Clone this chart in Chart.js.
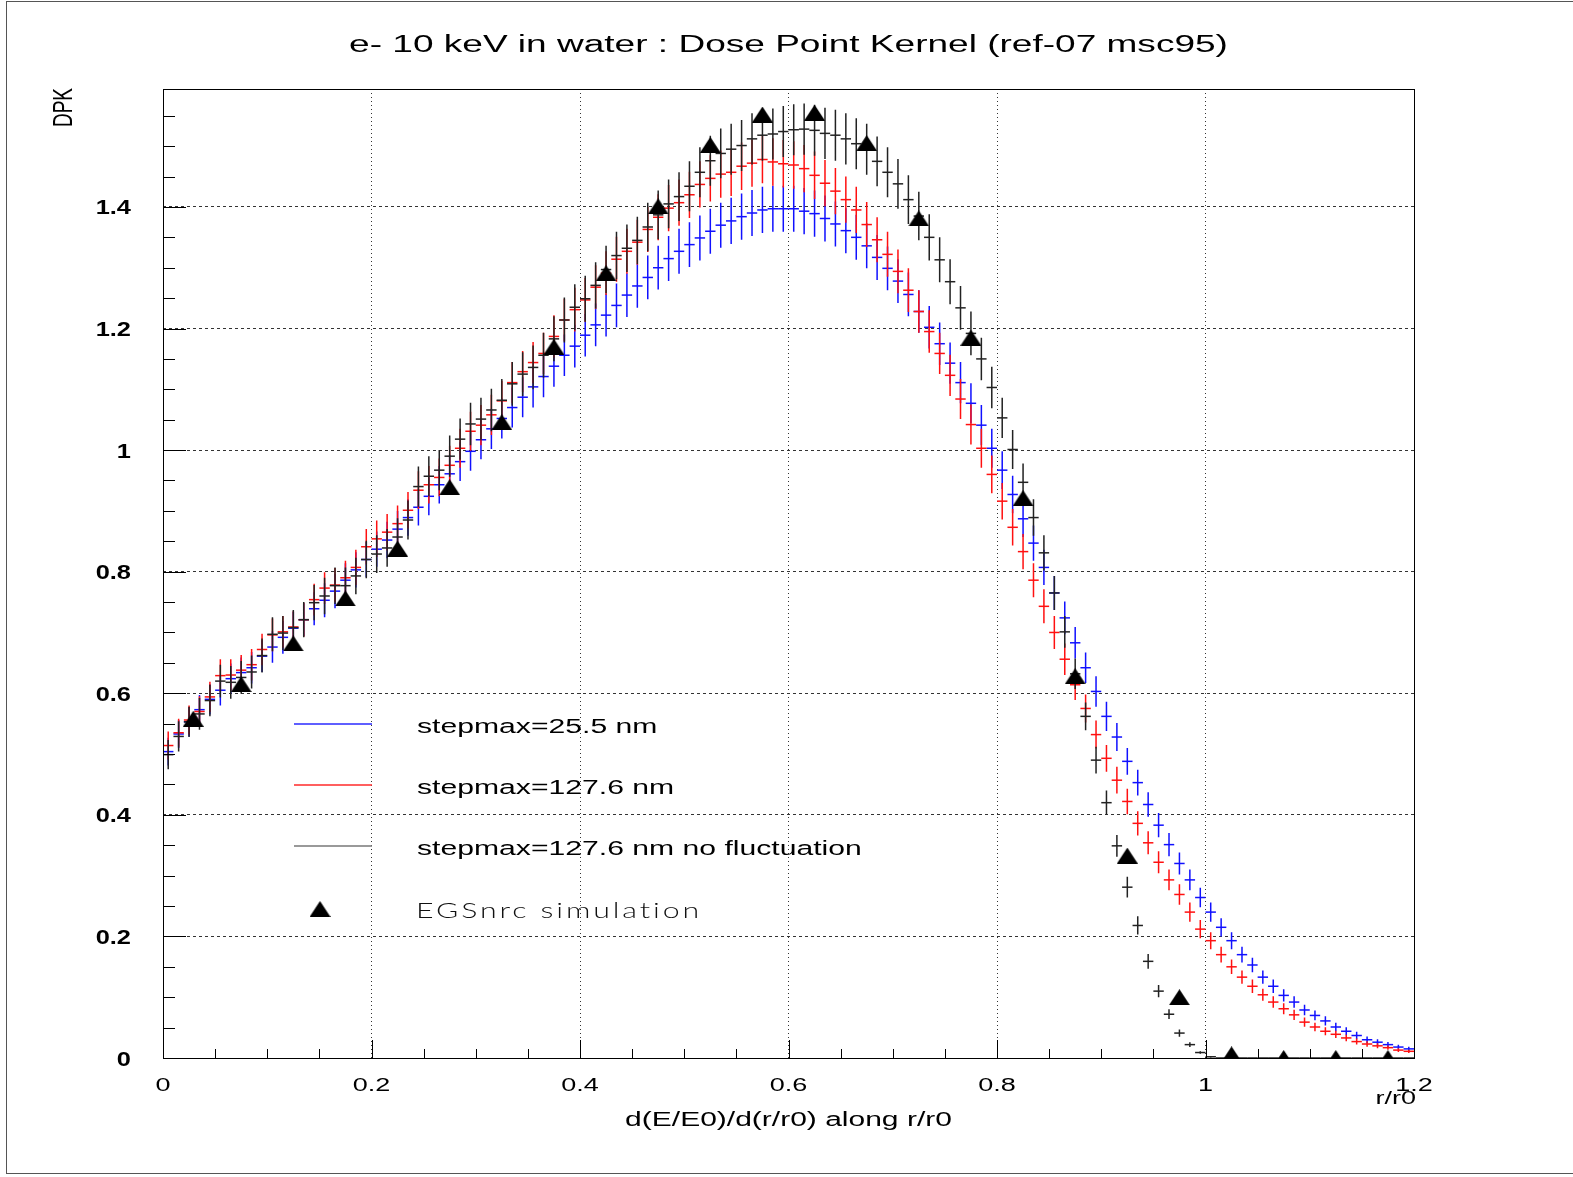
<!DOCTYPE html>
<html>
<head>
<meta charset="utf-8">
<title>e- 10 keV in water : Dose Point Kernel</title>
<script src="https://cdn.jsdelivr.net/npm/chart.js@4.4.1/dist/chart.umd.min.js"></script>
<style>
  html, body { margin: 0; padding: 0; background: #ffffff; }
  #c { display: block; }
</style>
</head>
<body>
<canvas id="c" width="1573" height="1177"></canvas>
<script>
// ---- histogram binning: 120 bins of width 0.01 in r/r0 ----
const binCenters = [
  0.005,0.015,0.025,0.035,0.045,0.055,0.065,0.075,0.085,0.095,
  0.105,0.115,0.125,0.135,0.145,0.155,0.165,0.175,0.185,0.195,
  0.205,0.215,0.225,0.235,0.245,0.255,0.265,0.275,0.285,0.295,
  0.305,0.315,0.325,0.335,0.345,0.355,0.365,0.375,0.385,0.395,
  0.405,0.415,0.425,0.435,0.445,0.455,0.465,0.475,0.485,0.495,
  0.505,0.515,0.525,0.535,0.545,0.555,0.565,0.575,0.585,0.595,
  0.605,0.615,0.625,0.635,0.645,0.655,0.665,0.675,0.685,0.695,
  0.705,0.715,0.725,0.735,0.745,0.755,0.765,0.775,0.785,0.795,
  0.805,0.815,0.825,0.835,0.845,0.855,0.865,0.875,0.885,0.895,
  0.905,0.915,0.925,0.935,0.945,0.955,0.965,0.975,0.985,0.995,
  1.005,1.015,1.025,1.035,1.045,1.055,1.065,1.075,1.085,1.095,
  1.105,1.115,1.125,1.135,1.145,1.155,1.165,1.175,1.185,1.195
];

// ---- stepmax = 25.5 nm ----
const dpkStep25 = [
  0.504,0.533,0.553,0.573,0.590,0.605,0.624,0.634,0.642,0.661,
  0.676,0.692,0.707,0.721,0.739,0.753,0.768,0.786,0.803,0.820,
  0.837,0.852,0.870,0.889,0.906,0.924,0.943,0.961,0.981,0.998,
  1.017,1.035,1.052,1.070,1.087,1.104,1.121,1.138,1.156,1.171,
  1.189,1.206,1.222,1.238,1.255,1.270,1.284,1.300,1.315,1.327,
  1.338,1.349,1.360,1.370,1.377,1.384,1.390,1.395,1.397,1.397,
  1.397,1.393,1.389,1.381,1.372,1.361,1.350,1.336,1.317,1.299,
  1.278,1.256,1.228,1.202,1.175,1.143,1.111,1.077,1.041,1.003,
  0.967,0.927,0.887,0.847,0.807,0.765,0.724,0.683,0.642,0.603,
  0.562,0.528,0.488,0.453,0.417,0.383,0.351,0.320,0.293,0.264,
  0.240,0.215,0.193,0.170,0.153,0.133,0.118,0.103,0.092,0.079,
  0.070,0.061,0.051,0.044,0.037,0.030,0.026,0.022,0.018,0.015
];
const errStep25 = [
  0.023,0.023,0.024,0.024,0.025,0.025,0.025,0.025,0.026,0.026,
  0.026,0.027,0.027,0.027,0.027,0.028,0.028,0.028,0.029,0.029,
  0.029,0.030,0.030,0.030,0.030,0.031,0.031,0.031,0.032,0.032,
  0.032,0.033,0.033,0.033,0.033,0.034,0.034,0.034,0.034,0.035,
  0.035,0.035,0.035,0.036,0.036,0.036,0.036,0.036,0.037,0.037,
  0.037,0.037,0.037,0.037,0.038,0.038,0.038,0.038,0.038,0.038,
  0.038,0.038,0.038,0.038,0.037,0.037,0.037,0.037,0.037,0.036,
  0.036,0.036,0.035,0.035,0.035,0.034,0.034,0.033,0.033,0.032,
  0.031,0.031,0.030,0.029,0.029,0.028,0.027,0.026,0.025,0.025,
  0.024,0.023,0.022,0.021,0.020,0.020,0.019,0.018,0.017,0.016,
  0.016,0.015,0.014,0.013,0.012,0.011,0.011,0.010,0.0095,0.0085,
  0.008,0.0075,0.007,0.0065,0.006,0.0052,0.0047,0.0043,0.0038,0.0034
];

// ---- stepmax = 127.6 nm ----
const dpkStep127 = [
  0.514,0.535,0.556,0.570,0.594,0.629,0.630,0.638,0.647,0.672,
  0.696,0.701,0.709,0.721,0.754,0.773,0.778,0.790,0.807,0.841,
  0.854,0.865,0.879,0.901,0.934,0.943,0.955,0.975,1.003,1.031,
  1.041,1.058,1.081,1.111,1.129,1.144,1.159,1.187,1.214,1.231,
  1.247,1.268,1.291,1.314,1.327,1.342,1.363,1.383,1.398,1.407,
  1.420,1.437,1.447,1.454,1.457,1.467,1.472,1.478,1.474,1.471,
  1.469,1.463,1.452,1.439,1.426,1.412,1.395,1.371,1.346,1.322,
  1.294,1.263,1.228,1.195,1.159,1.123,1.084,1.042,1.003,0.960,
  0.916,0.873,0.833,0.786,0.743,0.700,0.656,0.614,0.575,0.532,
  0.493,0.457,0.422,0.386,0.354,0.322,0.293,0.269,0.240,0.212,
  0.193,0.170,0.150,0.133,0.118,0.104,0.092,0.081,0.071,0.059,
  0.051,0.044,0.039,0.033,0.027,0.023,0.020,0.017,0.013,0.011
];
const errStep127 = [
  0.023,0.023,0.024,0.025,0.025,0.027,0.026,0.025,0.026,0.026,
  0.027,0.026,0.026,0.028,0.026,0.026,0.028,0.028,0.029,0.029,
  0.030,0.030,0.030,0.030,0.031,0.031,0.031,0.032,0.032,0.032,
  0.033,0.033,0.033,0.034,0.034,0.034,0.034,0.035,0.035,0.036,
  0.036,0.036,0.036,0.037,0.037,0.037,0.037,0.038,0.038,0.038,
  0.038,0.038,0.038,0.039,0.039,0.039,0.039,0.039,0.039,0.039,
  0.039,0.039,0.039,0.038,0.038,0.038,0.038,0.037,0.037,0.037,
  0.036,0.036,0.035,0.035,0.034,0.034,0.033,0.033,0.032,0.031,
  0.030,0.030,0.029,0.028,0.028,0.027,0.026,0.025,0.023,0.023,
  0.022,0.022,0.021,0.020,0.019,0.018,0.017,0.017,0.016,0.015,
  0.014,0.013,0.012,0.011,0.011,0.010,0.0095,0.0089,0.0083,0.0075,
  0.0069,0.0064,0.006,0.0054,0.0049,0.0044,0.0041,0.0036,0.0031,0.0027
];

// ---- stepmax = 127.6 nm, no energy-loss fluctuation ----
const dpkNoFluct = [
  0.499,0.529,0.553,0.566,0.588,0.620,0.618,0.626,0.635,0.662,
  0.697,0.699,0.708,0.721,0.749,0.760,0.777,0.777,0.793,0.820,
  0.829,0.839,0.857,0.885,0.940,0.957,0.967,0.990,1.018,1.043,
  1.051,1.066,1.082,1.109,1.125,1.136,1.156,1.183,1.214,1.235,
  1.249,1.271,1.297,1.320,1.332,1.345,1.367,1.387,1.405,1.417,
  1.434,1.457,1.476,1.488,1.495,1.501,1.512,1.518,1.520,1.524,
  1.527,1.528,1.526,1.521,1.518,1.512,1.504,1.495,1.475,1.457,
  1.438,1.412,1.385,1.350,1.313,1.277,1.234,1.192,1.150,1.103,
  1.053,1.001,0.947,0.889,0.831,0.765,0.701,0.632,0.562,0.490,
  0.420,0.349,0.281,0.218,0.159,0.110,0.072,0.041,0.022,0.009,
  0.002,0,0,0,0,0,0,0,0,0,
  0,0,0,0,0,0,0,0,0,0
];
const errNoFluct = [
  0.024,0.025,0.025,0.026,0.026,0.027,0.027,0.027,0.027,0.028,
  0.028,0.028,0.029,0.029,0.029,0.030,0.030,0.030,0.030,0.031,
  0.031,0.031,0.031,0.032,0.033,0.033,0.033,0.034,0.034,0.035,
  0.035,0.035,0.035,0.036,0.036,0.036,0.037,0.037,0.037,0.038,
  0.038,0.038,0.039,0.039,0.039,0.039,0.040,0.040,0.040,0.040,
  0.041,0.041,0.041,0.041,0.042,0.042,0.042,0.042,0.042,0.042,
  0.042,0.042,0.042,0.042,0.042,0.042,0.042,0.042,0.041,0.041,
  0.041,0.040,0.040,0.038,0.037,0.037,0.036,0.036,0.035,0.034,
  0.033,0.032,0.031,0.030,0.029,0.028,0.026,0.025,0.023,0.022,
  0.020,0.018,0.017,0.015,0.012,0.010,0.008,0.006,0.004,0.002,
  0.001,0,0,0,0,0,0,0,0,0,
  0,0,0,0,0,0,0,0,0,0
];

// ---- EGSnrc reference points ----
const egsR = [
  0.029,0.075,0.125,0.175,0.225,0.275,0.325,0.375,0.425,0.475,0.525,0.575,
  0.625,0.675,0.725,0.775,0.825,0.875,0.925,0.975,1.025,1.075,1.125,1.175
];
const egsDpk = [
  0.558,0.615,0.682,0.756,0.838,0.939,1.046,1.170,1.291,1.401,1.502,1.552,
  1.555,1.505,1.381,1.185,0.921,0.628,0.333,0.100,0.006,0,0,0
];

// ---- axes ----
const xTickValues = [0, 0.2, 0.4, 0.6, 0.8, 1, 1.2];
const xTickLabels = ['0', '0.2', '0.4', '0.6', '0.8', '1', '1.2'];
const yTickValues = [0, 0.2, 0.4, 0.6, 0.8, 1, 1.2, 1.4];
const yTickLabels = ['0', '0.2', '0.4', '0.6', '0.8', '1', '1.2', '1.4'];
const minorStep = 0.05;

const chartTitle = 'e- 10 keV in water : Dose Point Kernel (ref-07 msc95)';
const xTitle = 'd(E/E0)/d(r/r0) along r/r0';
const xUnitLabel = 'r/r0';
const yTitle = 'DPK';
const seriesNames = ['stepmax=25.5 nm', 'stepmax=127.6 nm', 'stepmax=127.6 nm no fluctuation', 'EGSnrc simulation'];

// ---- drawing helpers ----
const FONT = '"Liberation Sans", Arial, Helvetica, sans-serif';
const STRETCH = 1.5; // wide lettering of the plot

function drawText(ctx, text, x, y, o) {
  ctx.save();
  ctx.font = o.font;
  ctx.fillStyle = o.color || '#000';
  ctx.textAlign = o.align || 'left';
  ctx.textBaseline = o.baseline || 'alphabetic';
  if (o.letterSpacing) ctx.letterSpacing = o.letterSpacing;
  ctx.translate(x, y);
  if (o.rotate) ctx.rotate(o.rotate);
  ctx.scale(o.sx || 1, o.sy || 1);
  ctx.fillText(text, 0, 0);
  ctx.restore();
}

// filled upward triangle used as the EGSnrc marker
function makeTriangle(w, h) {
  const c = document.createElement('canvas');
  c.width = w; c.height = h;
  const g = c.getContext('2d');
  g.fillStyle = '#000';
  g.beginPath();
  g.moveTo(w / 2, 0);
  g.lineTo(w, h);
  g.lineTo(0, h);
  g.closePath();
  g.fill();
  return c;
}
const triangleMarker = makeTriangle(21, 16);

function toPoints(values) {
  return binCenters.map((x, i) => ({ x: x, y: values[i] }));
}

// vertical error bars for each histogram dataset, placed with the chart scales
const errorBarPlugin = {
  id: 'errorBars',
  afterDatasetDraw(chart, args) {
    const ds = chart.data.datasets[args.index];
    if (!ds.errors) return;
    const { ctx, chartArea: a } = chart;
    const ys = chart.scales.y;
    ctx.save();
    ctx.beginPath();
    ctx.rect(a.left, a.top, a.right - a.left, a.bottom - a.top);
    ctx.clip();
    ctx.strokeStyle = ds.borderColor;
    ctx.lineWidth = 1.5;
    ctx.beginPath();
    args.meta.data.forEach((pt, i) => {
      const v = ds.data[i].y;
      const e = ds.errors[i];
      if (v === null || !e) return;
      ctx.moveTo(pt.x, ys.getPixelForValue(v + e));
      ctx.lineTo(pt.x, ys.getPixelForValue(v - e));
    });
    ctx.stroke();
    ctx.restore();
  }
};

// frame, inward ticks, labels, legend and titles
const decorPlugin = {
  id: 'decor',
  beforeDraw(chart) {
    const ctx = chart.ctx;
    ctx.save();
    ctx.fillStyle = '#ffffff';
    ctx.fillRect(0, 0, chart.width, chart.height);
    ctx.restore();
  },
  afterDraw(chart) {
    const { ctx, chartArea: a } = chart;
    const xs = chart.scales.x, ys = chart.scales.y;

    // outer pad border
    ctx.save();
    ctx.strokeStyle = '#555';
    ctx.lineWidth = 1;
    ctx.strokeRect(6.5, 1.5, chart.width + 20, chart.height - 5);
    ctx.restore();

    // plot frame
    ctx.save();
    ctx.strokeStyle = '#000';
    ctx.lineWidth = 1;
    ctx.strokeRect(Math.round(a.left) + 0.5, Math.round(a.top) + 0.5,
                   Math.round(a.right - a.left), Math.round(a.bottom - a.top));

    // y ticks (inside, from the left axis)
    ctx.beginPath();
    for (let v = 0; v <= ys.max + 1e-9; v += minorStep) {
      const major = Math.abs(v / 0.2 - Math.round(v / 0.2)) < 1e-6;
      const py = Math.round(ys.getPixelForValue(v)) + 0.5;
      ctx.moveTo(a.left, py);
      ctx.lineTo(a.left + (major ? 23 : 12), py);
    }
    // x ticks (inside, from the bottom axis)
    for (let v = 0; v <= xs.max + 1e-9; v += minorStep) {
      const major = Math.abs(v / 0.2 - Math.round(v / 0.2)) < 1e-6;
      const px = Math.round(xs.getPixelForValue(v)) + 0.5;
      ctx.moveTo(px, a.bottom);
      ctx.lineTo(px, a.bottom - (major ? 18 : 9));
    }
    ctx.stroke();
    ctx.restore();

    // tick labels
    yTickValues.forEach((v, i) => {
      drawText(ctx, yTickLabels[i], a.left - 32, ys.getPixelForValue(v) + 2,
        { font: 'bold 20px ' + FONT, align: 'right', baseline: 'middle', sx: 1.27 });
    });
    xTickValues.forEach((v, i) => {
      drawText(ctx, xTickLabels[i], xs.getPixelForValue(v), a.bottom + 33,
        { font: '18px ' + FONT, align: 'center', baseline: 'alphabetic', sx: STRETCH });
    });

    // axis titles
    drawText(ctx, xUnitLabel, a.right + 2, a.bottom + 46,
      { font: '18px ' + FONT, align: 'right', baseline: 'alphabetic', sx: STRETCH });
    drawText(ctx, xTitle, (a.left + a.right) / 2, a.bottom + 68,
      { font: '20px ' + FONT, align: 'center', baseline: 'alphabetic', sx: STRETCH });
    drawText(ctx, yTitle, 72, a.top - 1,
      { font: '19px ' + FONT, align: 'right', baseline: 'alphabetic',
        rotate: -Math.PI / 2, sy: STRETCH });

    // title
    drawText(ctx, chartTitle, (a.left + a.right) / 2, 51.5,
      { font: '24.7px ' + FONT, align: 'center', baseline: 'alphabetic', sx: STRETCH });

    // legend
    const colors = chart.data.datasets.slice(1).reverse().map(d => d.legendColor);
    const rows = [724, 785, 846];
    ctx.save();
    ctx.lineWidth = 1.5;
    rows.forEach((ry, i) => {
      ctx.strokeStyle = colors[i];
      ctx.beginPath();
      ctx.moveTo(294, ry);
      ctx.lineTo(372, ry);
      ctx.stroke();
      drawText(ctx, seriesNames[i], 417, ry + 9,
        { font: '20.5px ' + FONT, align: 'left', baseline: 'alphabetic', sx: 1.47 });
    });
    ctx.drawImage(triangleMarker, 320 - triangleMarker.width / 2, 909 - triangleMarker.height / 2);
    ctx.restore();

    // EGSnrc label in the thin stroked lettering
    ctx.save();
    const egsFont = '300 21px "Lato", "DejaVu Sans", sans-serif';
    ctx.font = egsFont;
    ctx.letterSpacing = '2px';
    const w = ctx.measureText(seriesNames[3]).width;
    ctx.restore();
    drawText(ctx, seriesNames[3], 416, 918,
      { font: egsFont, letterSpacing: '2px', align: 'left', baseline: 'alphabetic',
        sx: 286 / w, color: '#111' });
  }
};

const gridColor = (edge) => (c) => {
  const v = c.tick ? c.tick.value : NaN;
  return (Math.abs(v) < 1e-9 || Math.abs(v - edge) < 1e-9) ? 'rgba(0,0,0,0)' : '#333';
};

new Chart(document.getElementById('c'), {
  type: 'scatter',
  data: {
    datasets: [
      {
        label: seriesNames[3],
        data: egsR.map((x, i) => ({ x: x, y: egsDpk[i] })),
        pointStyle: triangleMarker,
        pointRadius: 10,
        clip: 0
      },
      {
        label: seriesNames[2],
        data: toPoints(dpkNoFluct),
        errors: errNoFluct,
        borderColor: '#222222',
        legendColor: '#777777',
        pointStyle: 'line',
        pointRadius: 5.2,
        pointBorderWidth: 1.5,
        clip: 0
      },
      {
        label: seriesNames[1],
        data: toPoints(dpkStep127),
        errors: errStep127,
        borderColor: '#ff1010',
        legendColor: '#ff2a2a',
        pointStyle: 'line',
        pointRadius: 5.2,
        pointBorderWidth: 1.5,
        clip: 0
      },
      {
        label: seriesNames[0],
        data: toPoints(dpkStep25),
        errors: errStep25,
        borderColor: '#1010ff',
        legendColor: '#2a2aff',
        pointStyle: 'line',
        pointRadius: 5.2,
        pointBorderWidth: 1.5,
        clip: 0
      }
    ]
  },
  options: {
    responsive: false,
    animation: false,
    devicePixelRatio: 1,
    events: [],
    layout: { padding: { top: 89, right: 1573 - 1414, bottom: 0, left: 0 } },
    plugins: {
      legend: { display: false },
      tooltip: { enabled: false },
      title: { display: false }
    },
    scales: {
      x: {
        type: 'linear',
        min: 0,
        max: 1.2,
        ticks: { display: false, stepSize: 0.2, includeBounds: false },
        grid: { color: gridColor(1.2), lineWidth: 1, drawTicks: false, tickLength: 0 },
        border: { display: false, dash: [1, 3] },
        afterFit: (s) => { s.height = 1177 - 1058; }
      },
      y: {
        type: 'linear',
        min: 0,
        max: 1.594,
        ticks: { display: false, stepSize: 0.2, includeBounds: false },
        grid: { color: gridColor(99), lineWidth: 1, drawTicks: false, tickLength: 0 },
        border: { display: false, dash: [3, 3] },
        afterFit: (s) => { s.width = 163; }
      }
    }
  },
  plugins: [errorBarPlugin, decorPlugin]
});
</script>
</body>
</html>
